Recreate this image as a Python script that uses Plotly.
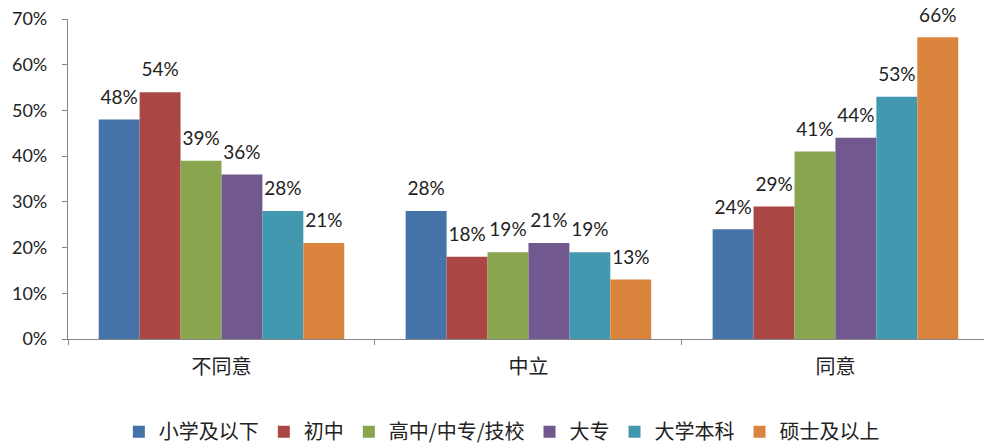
import plotly.graph_objects as go

categories = ["不同意", "中立", "同意"]
series_names = ["小学及以下", "初中", "高中/中专/技校", "大专", "大学本科", "硕士及以上"]
series_values = [
    [48, 28, 24],
    [54, 18, 29],
    [39, 19, 41],
    [36, 21, 44],
    [28, 19, 53],
    [21, 13, 66],
]
colors = ["#4572A7", "#AA4643", "#89A54E", "#71588F", "#4198AF", "#DB843D"]
y_ticks = [0, 10, 20, 30, 40, 50, 60, 70]

fig = go.Figure()
for name, vals, col in zip(series_names, series_values, colors):
    fig.add_trace(go.Bar(
        name=name,
        x=categories,
        y=vals,
        offsetgroup=name,
        marker=dict(color=col, line=dict(width=0)),
        cliponaxis=False,
    ))

# value labels: grouped text-only scatter sitting above each bar,
# an invisible marker keeps a little air between label and bar top
for name, vals in zip(series_names, series_values):
    fig.add_trace(go.Scatter(
        x=categories,
        y=vals,
        offsetgroup=name,
        mode="markers+text",
        marker=dict(size=16, color="rgba(0,0,0,0)"),
        text=[f"{v}%" for v in vals],
        textposition="top center",
        textfont=dict(family="Lato, Open Sans, sans-serif", size=19, color="#222222"),
        showlegend=False,
        hoverinfo="skip",
        cliponaxis=False,
    ))

fig.update_layout(
    width=984, height=445,
    margin=dict(l=68, r=0, t=19, b=106),
    plot_bgcolor="white", paper_bgcolor="white",
    barmode="group", bargap=0.2, bargroupgap=0,
    scattermode="group", scattergap=0.2,
    showlegend=True,
    legend=dict(
        orientation="h", x=0.51, xref="container", xanchor="center",
        y=0.03, yref="container", yanchor="middle",
        font=dict(family="Noto Sans CJK SC", size=20, color="#222222"),
        itemwidth=30, traceorder="normal",
    ),
    xaxis=dict(
        range=[-0.5, 2.484],
        showline=True, linecolor="#868686", linewidth=1.3,
        ticks="outside", tickson="boundaries", ticklen=5, tickcolor="#868686",
        tickfont=dict(family="Noto Sans CJK SC", size=20, color="#222222"),
        ticklabelstandoff=10,
        showgrid=False,
    ),
    yaxis=dict(
        range=[0, 70],
        tickvals=y_ticks,
        ticktext=[f"{v}%" for v in y_ticks],
        showline=True, linecolor="#868686", linewidth=1.3,
        ticks="outside", ticklen=5, tickcolor="#868686",
        tickfont=dict(family="Lato, Open Sans, sans-serif", size=18, color="#222222"),
        ticklabelstandoff=11,
        showgrid=False, zeroline=False,
    ),
)

fig.write_html("out.html")
